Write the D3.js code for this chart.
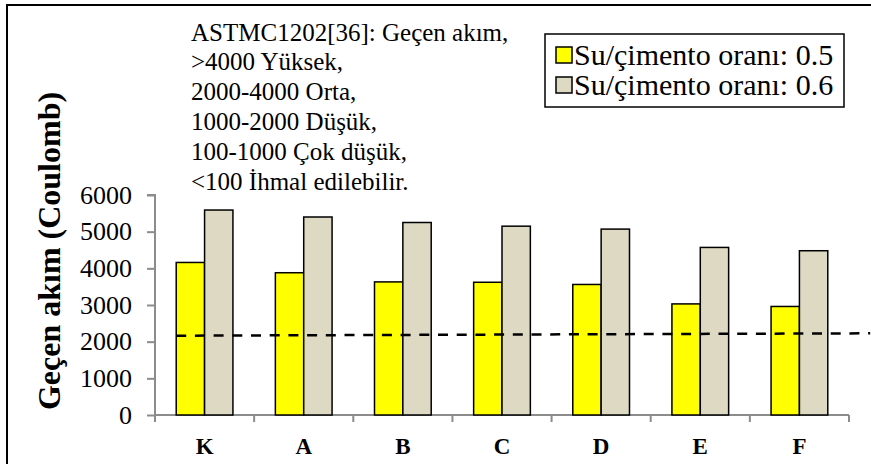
<!DOCTYPE html>
<html>
<head>
<meta charset="utf-8">
<script src="https://cdn.jsdelivr.net/npm/d3@7/dist/d3.min.js"></script>
<style>
  html, body { margin: 0; padding: 0; background: #fff; }
  svg { display: block; }
</style>
</head>
<body>
<svg id="chart" width="871" height="464"></svg>
<script>
// ---- data ----
const categories = ["K", "A", "B", "C", "D", "E", "F"];
const seriesNames = ["Su/çimento oranı: 0.5", "Su/çimento oranı: 0.6"];
const ratio05 = [4160, 3880, 3630, 3620, 3560, 3030, 2960];
const ratio06 = [5590, 5400, 5250, 5150, 5070, 4570, 4480];
const yTickValues = [0, 1000, 2000, 3000, 4000, 5000, 6000];
const dashedLineIndex = [0, 7];
const dashedLineValue = [2163, 2228];
const noteLines = [
  "ASTMC1202[36]: Geçen akım,",
  ">4000 Yüksek,",
  "2000-4000 Orta,",
  "1000-2000 Düşük,",
  "100-1000 Çok düşük,",
  "<100 İhmal edilebilir."
];
const yTitle = "Geçen akım (Coulomb)";
const colors = ["#FFFF00", "#DDD9C3"];

// ---- layout ----
const FONT = "Liberation Serif";
const svg = d3.select("#chart");
const plot = { left: 155, right: 849, top: 195, bottom: 415 };

svg.append("rect")
  .attr("x", 7).attr("y", 5).attr("width", 900).attr("height", 500)
  .attr("fill", "none").attr("stroke", "#000").attr("stroke-width", 2);

const x0 = d3.scaleBand().domain(categories)
  .range([plot.left, plot.right]).paddingInner(0.428).paddingOuter(0.214);
const x1 = d3.scaleBand().domain([0, 1]).range([0, x0.bandwidth()]).padding(0);
const y = d3.scaleLinear().domain([0, 6000]).range([plot.bottom, plot.top]);

const axisColor = "#8c8c8c";

// y axis
const yAxis = svg.append("g").attr("transform", `translate(${plot.left},0)`)
  .call(d3.axisLeft(y).tickValues(yTickValues).tickSize(8).tickPadding(15).tickFormat(d3.format("d")));
yAxis.attr("font-family", FONT).attr("font-size", 26);
yAxis.select(".domain").attr("stroke", axisColor).attr("stroke-width", 2)
  .attr("d", `M-8,${plot.top}H0V${plot.bottom + 7}`);
yAxis.selectAll(".tick line").attr("stroke", axisColor).attr("stroke-width", 2);
yAxis.selectAll(".tick text").attr("fill", "#000");

// x axis
const xAxis = svg.append("g").attr("transform", `translate(0,${plot.bottom})`)
  .call(d3.axisBottom(x0).tickSize(0).tickPadding(23));
xAxis.attr("font-family", FONT).attr("font-size", 23).attr("font-weight", "bold");
xAxis.select(".domain").attr("stroke", axisColor).attr("stroke-width", 2)
  .attr("d", `M${plot.left},0H${plot.right}`);
xAxis.selectAll(".tick text").attr("fill", "#000");
const step = x0.step();
const boundaries = categories.map(c => x0(c) - x0.paddingInner() * step / 2).concat([plot.right]);
svg.append("g").selectAll("line").data(boundaries).join("line")
  .attr("x1", d => d).attr("x2", d => d)
  .attr("y1", plot.bottom).attr("y2", plot.bottom + 7)
  .attr("stroke", axisColor).attr("stroke-width", 2);

// bars
const groups = svg.append("g").selectAll("g").data(categories).join("g")
  .attr("transform", c => `translate(${x0(c)},0)`);
groups.selectAll("rect")
  .data((c, i) => [ratio05[i], ratio06[i]])
  .join("rect")
  .attr("x", (d, j) => x1(j))
  .attr("y", d => y(d))
  .attr("width", x1.bandwidth())
  .attr("height", d => y(0) - y(d))
  .attr("fill", (d, j) => colors[j])
  .attr("stroke", "#000").attr("stroke-width", 1.5);

// dashed line
const xi = d3.scaleLinear().domain([0, 1]).range([x0(categories[0]), x0(categories[0]) + step]);
svg.append("path")
  .datum(dashedLineIndex.map((d, i) => [d, dashedLineValue[i]]))
  .attr("d", d3.line().x(d => xi(d[0])).y(d => y(d[1])))
  .attr("fill", "none").attr("stroke", "#000").attr("stroke-width", 2.5)
  .attr("stroke-dasharray", "10,8.7");

// y title
svg.append("text")
  .attr("transform", `translate(60,251) rotate(-90)`)
  .attr("text-anchor", "middle")
  .attr("font-family", FONT).attr("font-size", 32).attr("font-weight", "bold")
  .text(yTitle);

// annotation
svg.append("g").selectAll("text").data(noteLines).join("text")
  .attr("x", 191).attr("y", (d, i) => 40.5 + i * 29.8)
  .attr("font-family", FONT).attr("font-size", 25)
  .text(d => d);

// legend
const lg = svg.append("g");
lg.append("rect").attr("x", 545).attr("y", 34).attr("width", 299).attr("height", 73)
  .attr("fill", "#fff").attr("stroke", "#000").attr("stroke-width", 1.5);
const items = lg.selectAll("g").data(seriesNames).join("g")
  .attr("transform", (d, i) => `translate(0,${i * 30})`);
items.append("rect").attr("x", 556).attr("y", 47).attr("width", 16).attr("height", 16)
  .attr("fill", (d, i) => colors[i]).attr("stroke", "#000").attr("stroke-width", 1.5);
items.append("text").attr("x", 574).attr("y", 65)
  .attr("font-family", FONT).attr("font-size", 30).text(d => d);
</script>
</body>
</html>
